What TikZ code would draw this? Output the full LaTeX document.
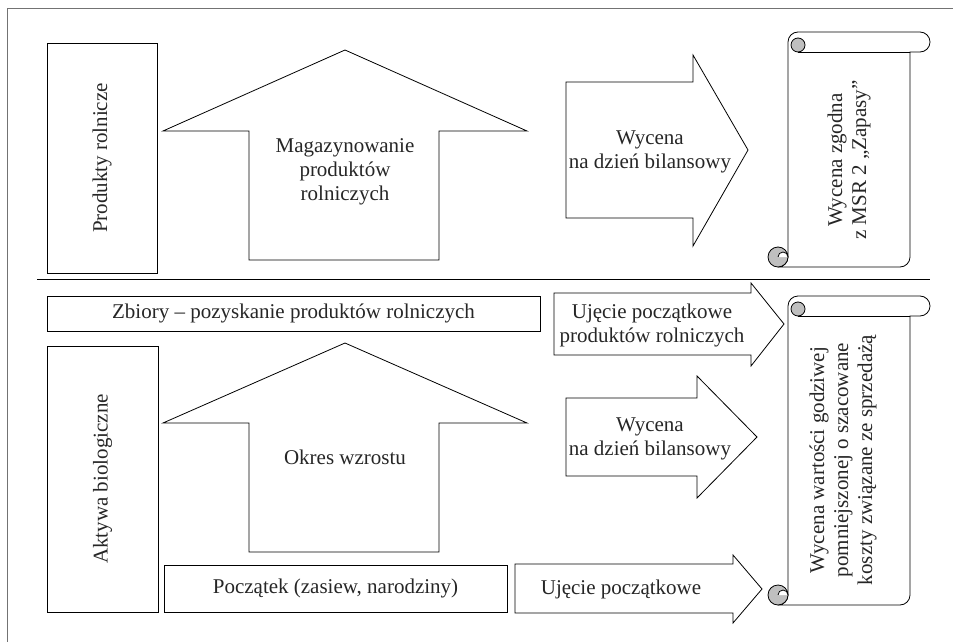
\documentclass[tikz,border=0pt]{standalone}
\usepackage{fontspec}
\setmainfont{Liberation Serif}
\usetikzlibrary{positioning}

% zwoj: #1 left, #2 top, #3 right, #4 bottom
\newcommand{\zwoj}[4]{%
  \filldraw[fill=white,linia] ({#1+10},#4) -- ({#3-30},#4) arc[start angle=90,end angle=0,radius=10]
    -- ({#3-20},{#2+20}) -- ({#3-10},{#2+20}) arc[start angle=90,end angle=-90,radius=10]
    -- ({#1+30},#2) arc[start angle=-90,end angle=-180,radius=10]
    -- ({#1+20},{#4-10}) arc[start angle=0,end angle=90,radius=10] -- cycle;
  \draw[linia] ({#1+30},{#2+20}) -- ({#3-20},{#2+20});
  \filldraw[zawijas] ({#1+30},{#2+13}) circle[radius=7];
  \filldraw[zawijas] ({#1+10},{#4-10}) circle[radius=10];
  \filldraw[linia,fill=white] ({#1+10},{#4-10}) arc[start angle=180,end angle=360,radius=5];
}

\begin{document}
\begin{tikzpicture}[x=1pt,y=-1pt,
  linia/.style={draw=black,line width=0.8pt},
  pole/.style={linia,inner sep=0pt},
  tekst/.style={align=center,font=\fontsize{21}{24}\selectfont,text=black!85,inner sep=0pt},
  zawijas/.style={linia,fill=black!25}]
\useasboundingbox (0,0) rectangle (953,642);

% ramka i podzial
\draw[black!55,line width=0.8pt] (7,642) -- (7,8) -- (953,8);
\draw[linia] (37,279) -- (930,279);

% gorna czesc
\node[pole,tekst,rotate=90,minimum width=230pt,minimum height=110pt] (produkty) at (102,158) {Produkty rolnicze};
\draw[linia] (249,260) -- (249,131) -- (163,131) -- (345,50) -- (527,131) -- (439,131) -- (439,260) -- cycle;
\node[tekst] (magazyn) at (345,172) {Magazynowanie\\produktów\\rolniczych};
\draw[linia] (566,82) -- (693,82) -- (693,55) -- (748,150) -- (693,246) -- (693,218) -- (566,218) -- cycle;
\node[tekst] (wycena1) at (650,152) {Wycena\\na dzień bilansowy};
\zwoj{768}{32}{930}{267}
\node[tekst,rotate=90] (msr) at (849,160) {Wycena zgodna\\z MSR 2 „Zapasy”};

% dolna czesc
\node[pole,tekst,minimum width=493pt,minimum height=35pt] (zbiory) at (293.5,313.5) {Zbiory – pozyskanie produktów rolniczych};
\draw[linia] (554,293) -- (751,293) -- (751,283) -- (784,324) -- (751,366) -- (751,355) -- (554,355) -- cycle;
\node[tekst] (ujecie1) at (652,325) {Ujęcie początkowe\\produktów rolniczych};
\node[pole,tekst,rotate=90,minimum width=266pt,minimum height=111pt] (aktywa) at (102.5,479) {Aktywa biologiczne};
\draw[linia] (249,552) -- (249,423) -- (163,423) -- (345,343) -- (527,423) -- (439,423) -- (439,552) -- cycle;
\node[tekst] (okres) at (345,457) {Okres wzrostu};
\draw[linia] (566,398) -- (697,398) -- (697,376) -- (757,437) -- (697,498) -- (697,476) -- (566,476) -- cycle;
\node[tekst] (wycena2) at (650,439) {Wycena\\na dzień bilansowy};
\node[pole,tekst,minimum width=343pt,minimum height=47pt] (poczatek) at (335.5,588.5) {Początek (zasiew, narodziny)};
\draw[linia] (515,564) -- (733,564) -- (733,555) -- (762,589) -- (733,623) -- (733,613) -- (515,613) -- cycle;
\node[tekst] (ujecie2) at (621,589) {Ujęcie początkowe};
\zwoj{768}{296}{930}{605}
\node[tekst,rotate=90] (godziwa) at (843,460) {Wycena wartości godziwej\\pomniejszonej o szacowane\\koszty związane ze sprzedażą};
\end{tikzpicture}
\end{document}
